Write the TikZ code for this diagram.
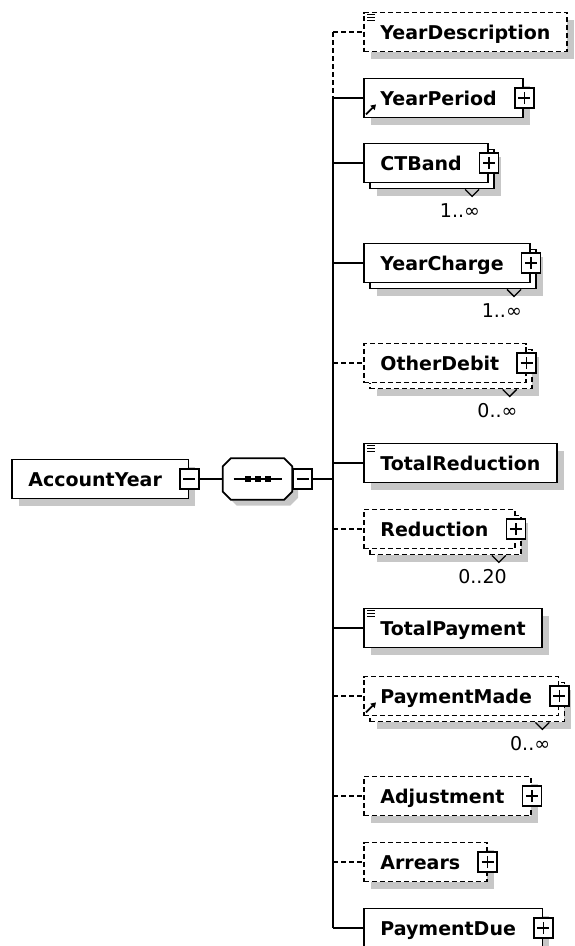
\documentclass[tikz,border=0pt]{standalone}
\usepackage{fontspec}
\setmainfont{DejaVu Sans}
\usetikzlibrary{positioning,calc,shadows,arrows.meta}

\tikzset{
  wire/.style={line width=1.8pt},
  opt/.style={dash pattern=on 5pt off 3pt},
  boxshadow/.style={drop shadow={shadow xshift=#1, shadow yshift=-#1, fill=black!22, opacity=1}},
  elem/.style={rectangle, draw, fill=white, line width=1.8pt, anchor=west,
    minimum height=39pt, inner xsep=16.5pt, inner ysep=0pt,
    text height=18pt, text depth=4pt, font=\fontsize{19}{19}\selectfont\bfseries},
  single/.style={boxshadow=7pt},
  stacked/.style={boxshadow=13pt,
    copy shadow={shadow xshift=6pt, shadow yshift=-6pt, fill=white, draw=black, line width=1.8pt, #1}},
  stacked/.default={},
  haskids/.style={execute at end node={\hspace*{10pt}}},
  xbox/.style={rectangle, draw, fill=white, line width=1.6pt, minimum width=19pt,
    minimum height=20pt, inner sep=0pt},
  plusbox/.style={xbox, path picture={
    \draw[line width=1.4pt] ([xshift=-6pt]path picture bounding box.center) -- ([xshift=6pt]path picture bounding box.center);
    \draw[line width=1.4pt] ([yshift=-6pt]path picture bounding box.center) -- ([yshift=6pt]path picture bounding box.center);}},
  minusbox/.style={xbox, path picture={
    \draw[line width=1.4pt] ([xshift=-6pt]path picture bounding box.center) -- ([xshift=6pt]path picture bounding box.center);}},
  mult/.style={anchor=east, inner sep=0pt, text height=13pt, text depth=0pt,
    font=\fontsize{19}{19}\selectfont}
}

\begin{document}
\begin{tikzpicture}[x=1pt, y=-1pt]
\useasboundingbox (0,0) rectangle (574,946);

% root and sequence
\node[elem, single, haskids] (acc) at (11,479) {AccountYear};
\node[minusbox] (accx) at (acc.east) {};
\node[minimum width=69pt, minimum height=41pt, inner sep=0pt] (seq) at (257.5,479) {};
\filldraw[fill=white, line width=1.8pt, boxshadow=6pt]
  ($(seq.north west)+(8,0)$) -- ($(seq.north east)+(-8,0)$) -- ($(seq.north east)+(0,8)$)
  -- ($(seq.south east)+(0,-8)$) -- ($(seq.south east)+(-8,0)$) -- ($(seq.south west)+(8,0)$)
  -- ($(seq.south west)+(0,-8)$) -- ($(seq.north west)+(0,8)$) -- cycle;
\draw[line width=1.5pt] ($(seq.center)+(-24,0)$) -- ($(seq.center)+(24,0)$);
\foreach \d in {-10,0,10}
  \fill ($(seq.center)+(\d,0)$) +(-3,-3) rectangle +(3,3);
\node[minusbox, anchor=west] (seqx) at (seq.east) {};
\coordinate (bus) at (333,479);
\draw[wire] (accx.east) -- (seq.west);
\draw[wire] (seqx.east) -- (bus);

% children
\node[elem, opt, single] (ydesc) at (363,32) {YearDescription};
\node[elem, single, haskids] (yperiod) at (363,98) {YearPeriod};
\node[elem, stacked, haskids] (ctband) at (363,163) {CTBand};
\node[elem, stacked, haskids] (ycharge) at (363,263) {YearCharge};
\node[elem, opt, stacked=opt, haskids] (odebit) at (363,363) {OtherDebit};
\node[elem, single] (totred) at (363,463) {TotalReduction};
\node[elem, opt, stacked=opt, haskids] (reduct) at (363,529) {Reduction};
\node[elem, single] (totpay) at (363,628) {TotalPayment};
\node[elem, opt, stacked=opt, haskids] (pmade) at (363,696) {PaymentMade};
\node[elem, opt, single, haskids] (adjust) at (363,796) {Adjustment};
\node[elem, opt, single, haskids] (arrears) at (363,862) {Arrears};
\node[elem, single, haskids] (pdue) at (363,928) {PaymentDue};

\foreach \n in {yperiod,ctband,ycharge,odebit,reduct,pmade,adjust,arrears,pdue}
  \node[plusbox] (\n-x) at (\n.east) {};

% multiplicity
\foreach \n/\m in {ctband/1..∞, ycharge/1..∞, odebit/0..∞, reduct/0..20, pmade/0..∞} {
  \draw[line width=1.3pt] ($(\n.south east)+(-24,6)$) -- ++(7,7) -- ++(7,-7);
  \node[mult] (\n-m) at ($(\n.south east)+(-9,28)$) {\m};
}

% icons
\foreach \n in {ydesc,totred,totpay}
  \foreach \k in {3,6,9}
    \draw[line width=1.3pt] ($(\n.north west)+(4,\k)$) -- ++(8,0);
\foreach \n in {yperiod,pmade}
  \draw[line width=1.8pt, -{Triangle[length=5pt,width=6pt]}] ($(\n.south west)+(3,-4)$) -- ++(10,-10);

% bus
\draw[wire, opt] (bus |- ydesc.west) -- (bus |- yperiod.west);
\draw[wire] (bus |- yperiod.west) -- (bus |- pdue.west);
\foreach \n in {yperiod,ctband,ycharge,totred,totpay,pdue}
  \draw[wire] (bus |- \n.west) -- (\n.west);
\foreach \n in {ydesc,odebit,reduct,pmade,adjust,arrears}
  \draw[wire, opt] (bus |- \n.west) -- (\n.west);
\end{tikzpicture}
\end{document}
